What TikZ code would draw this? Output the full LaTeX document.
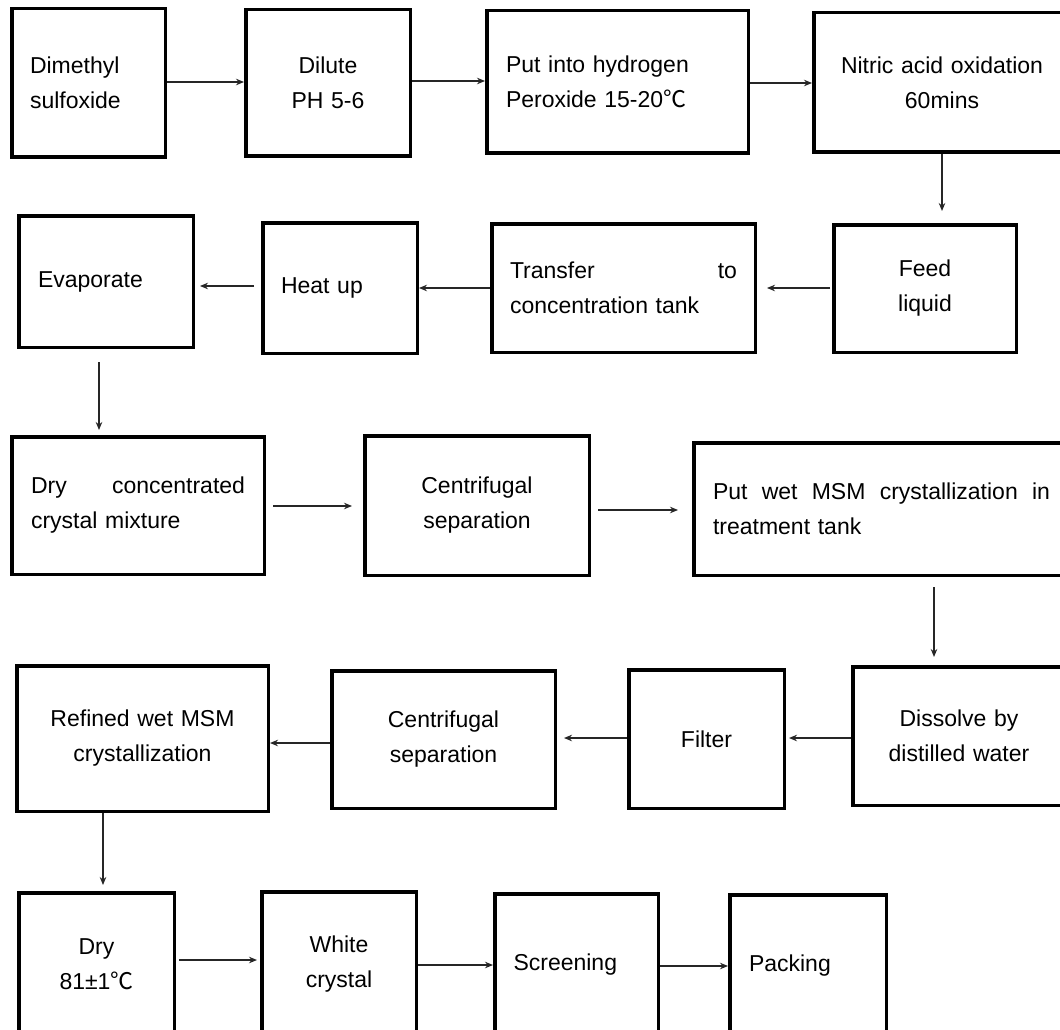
\documentclass[tikz,border=0pt]{standalone}
\usepackage{fontspec}
\setmainfont{Liberation Sans}
\newfontfamily\cjk{Noto Sans CJK SC}
\usetikzlibrary{arrows.meta}
\newcommand{\degc}{{\cjk ℃}}
\begin{document}
\begin{tikzpicture}[x=1pt,y=-1pt,
  pbox/.style={draw=black, line width=3.5pt, inner sep=0pt, fill=white,
    font=\fontsize{23}{35}\selectfont},
  arr/.style={draw=black!85, line width=1.3pt, -{Stealth[length=8pt,width=6.5pt]}}]
\useasboundingbox (0,0) rectangle (1060,1030);
\fill[white] (0,0) rectangle (1060,1030);
\clip (0,0) rectangle (1060,1030);
% row 1
\node[pbox, minimum width=153.5pt, minimum height=148.5pt, text width=117pt, align=left] (dmso) at (88.5,83) {Dimethyl\\sulfoxide};
\node[pbox, minimum width=164.5pt, minimum height=146.5pt, text width=128pt, align=center] (dilute) at (328,83) {Dilute\\PH 5-6};
\node[pbox, minimum width=261.5pt, minimum height=142.5pt, text width=223pt, align=left] (putinto) at (617.5,82) {Put into hydrogen\\Peroxide 15-20\degc};
\node[pbox, minimum width=256.5pt, minimum height=139.5pt, text width=220pt, align=center] (nitric) at (942,82.5) {Nitric acid oxidation\\60mins};
% row 2
\node[pbox, minimum width=174.5pt, minimum height=131.5pt, text width=136pt, align=left] (evap) at (106,281.5) {Evaporate};
\node[pbox, minimum width=154.5pt, minimum height=130.5pt, text width=118pt, align=left] (heat) at (340,288) {Heat up};
\node[pbox, minimum width=263.5pt, minimum height=128.5pt, text width=227pt, align=left] (transfer) at (623.5,288) {Transfer\hfill to\\concentration tank};
\node[pbox, minimum width=182.5pt, minimum height=127.5pt, text width=140pt, align=center] (feed) at (925,288.5) {Feed\\liquid};
% row 3
\node[pbox, minimum width=252.5pt, minimum height=137.5pt, text width=214pt, align=left] (dryconc) at (138,505.5) {Dry\hfill concentrated\\crystal mixture};
\node[pbox, minimum width=224.5pt, minimum height=139.5pt, text width=180pt, align=center] (centA) at (477,505.5) {Centrifugal\\separation};
\node[pbox, minimum width=375.5pt, minimum height=132.5pt, text width=337pt, align=left] (putwet) at (881.5,509) {Put\hfill wet\hfill MSM\hfill crystallization\hfill in\\treatment tank};
% row 4
\node[pbox, minimum width=251.5pt, minimum height=145.5pt, text width=210pt, align=center] (refined) at (142.5,738.5) {Refined wet MSM\\crystallization};
\node[pbox, minimum width=223.5pt, minimum height=137.5pt, text width=180pt, align=center] (centB) at (443.5,739.5) {Centrifugal\\separation};
\node[pbox, minimum width=155.5pt, minimum height=138.5pt, text width=115pt, align=center] (filter) at (706.5,739) {Filter};
\node[pbox, minimum width=212.5pt, minimum height=138.5pt, text width=170pt, align=center] (dissolve) at (959,736) {Dissolve by\\distilled water};
% row 5
\node[pbox, minimum width=155.5pt, minimum height=143.5pt, text width=115pt, align=center] (dryB) at (96.5,964.5) {Dry\\81±1\degc};
\node[pbox, minimum width=154.5pt, minimum height=144.5pt, text width=115pt, align=center] (white) at (339,964) {White\\crystal};
\node[pbox, minimum width=163.5pt, minimum height=142.5pt, text width=126pt, align=left] (screen) at (576.5,965) {Screening};
\node[pbox, minimum width=156.5pt, minimum height=141.5pt, text width=118pt, align=left] (pack) at (808,965.5) {Packing};
% connectors
\draw[arr] (dmso.east |- 0,82) -- (dilute.west |- 0,82);
\draw[arr] (dilute.east |- 0,81) -- (putinto.west |- 0,81);
\draw[arr] (putinto.east |- 0,83) -- (nitric.west |- 0,83);
\draw[arr, shorten >=12pt] (nitric.south -| 942,0) -- (feed.north -| 942,0);
\draw[arr, shorten <=2pt, shorten >=10pt] (feed.west |- 0,288) -- (transfer.east |- 0,288);
\draw[arr] (transfer.west |- 0,288) -- (heat.east |- 0,288);
\draw[arr, shorten <=7pt, shorten >=5pt] (heat.west |- 0,286) -- (evap.east |- 0,286);
\draw[arr, shorten <=13pt, shorten >=5pt] (evap.south -| 99,0) -- (dryconc.north -| 99,0);
\draw[arr, shorten <=7pt, shorten >=11pt] (dryconc.east |- 0,506) -- (centA.west |- 0,506);
\draw[arr, shorten <=7pt, shorten >=14pt] (centA.east |- 0,510) -- (putwet.west |- 0,510);
\draw[arr, shorten <=10pt, shorten >=8pt] (putwet.south -| 934,0) -- (dissolve.north -| 934,0);
\draw[arr, shorten >=3pt] (dissolve.west |- 0,738) -- (filter.east |- 0,738);
\draw[arr, shorten >=7pt] (filter.west |- 0,738) -- (centB.east |- 0,738);
\draw[arr] (centB.west |- 0,743) -- (refined.east |- 0,743);
\draw[arr, shorten >=6pt] (refined.south -| 103,0) -- (dryB.north -| 103,0);
\draw[arr, shorten <=3pt, shorten >=3pt] (dryB.east |- 0,960) -- (white.west |- 0,960);
\draw[arr] (white.east |- 0,965) -- (screen.west |- 0,965);
\draw[arr] (screen.east |- 0,966) -- (pack.west |- 0,966);
\end{tikzpicture}
\end{document}
